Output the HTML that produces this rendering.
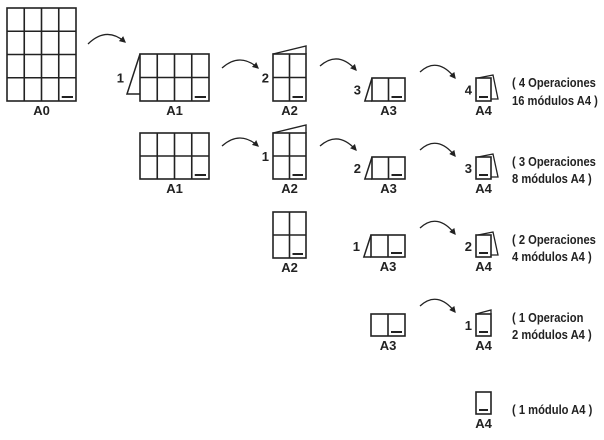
<!DOCTYPE html>
<html><head><meta charset="utf-8"><style>
html,body{margin:0;padding:0;background:#fff;}
svg{display:block;font-family:"Liberation Sans",Arial,sans-serif;font-weight:bold;}
</style></head><body>
<svg id="d" width="604" height="440" viewBox="0 0 604 440">
<defs><marker id="ah" markerWidth="5" markerHeight="5" refX="4" refY="2.5" orient="auto"><path d="M0,0 L5,2.5 L0,5 z" fill="#222"/></marker></defs>
</svg>
<script>
const NS="http://www.w3.org/2000/svg";
const svg=document.getElementById('d');
function el(tag,attrs,parent){const e=document.createElementNS(NS,tag);for(const k in attrs)e.setAttribute(k,attrs[k]);(parent||svg).appendChild(e);return e;}
const sheets=[
[7,8,4,4,17.25,23.25,'A0','',''],
[140,54,4,2,17.25,23.5,'A1','1','left'],
[273,54,2,2,16.5,23.5,'A2','2','top'],
[372,78,2,1,16.5,23,'A3','3','left'],
[476,78,1,1,15,23,'A4','4','right'],
[140,133,4,2,17.25,23,'A1','',''],
[273,133,2,2,16.5,23,'A2','1','top'],
[372,157,2,1,16.5,22,'A3','2','left'],
[476,157,1,1,15,22,'A4','3','right'],
[273,212,2,2,16.5,23,'A2','',''],
[371,235,2,1,17,22,'A3','1','left'],
[476,235,1,1,15,22,'A4','2','right'],
[371,314,2,1,17,22,'A3','',''],
[476,314,1,1,15,22,'A4','1','topsmall'],
[476,392,1,1,15,22,'A4','','']
];
sheets.forEach(s=>{
 const [x,y,c,r,w,h,lab,num,flap]=s;
 const g=el('g',{});
 
 
 const W=c*w,H=r*h;
 if(flap==='left'){el('path',{d:`M${x},${y} L${x-13*(r>1?1:0.55)},${y+H-(r>1?7:0)} L${x},${y+H-(r>1?7:0)}`,fill:'#fff',stroke:'#222','stroke-width':1.5},g);}
 if(flap==='top'){el('path',{d:`M${x},${y} L${x+W},${y-8} L${x+W},${y}`,fill:'#fff',stroke:'#222','stroke-width':1.4},g);}
 if(flap==='right'){el('path',{d:`M${x+2},${y} L${x+W+2},${y-3} L${x+W+7},${y+H-2} L${x+W},${y+H-2}`,fill:'#fff',stroke:'#222','stroke-width':1.3},g);}
 if(flap==='topsmall'){el('path',{d:`M${x},${y} L${x+W},${y-4} L${x+W},${y}`,fill:'#fff',stroke:'#222','stroke-width':1.3},g);}
 el('rect',{x:x,y:y,width:W,height:H,fill:'#fff',stroke:'#222','stroke-width':1.6},g);
 for(let i=1;i<c;i++)el('line',{x1:x+i*w,y1:y,x2:x+i*w,y2:y+H,stroke:'#222','stroke-width':1.6},g);
 for(let j=1;j<r;j++)el('line',{x1:x,y1:y+j*h,x2:x+W,y2:y+j*h,stroke:'#222','stroke-width':1.6},g);
 el('line',{x1:x+W-w+3,y1:y+H-4,x2:x+W-3,y2:y+H-4,stroke:'#222','stroke-width':2},g);
 const t=el('text',{x:x+W/2,y:y+H+14,'text-anchor':'middle','font-size':13,fill:'#222'},g);t.textContent=lab;
 if(num){const n=el('text',{x:x-(flap==='left'?(r>1?16:11):4),y:y+H/2+5,'text-anchor':'end','font-size':13,fill:'#222'},g);n.textContent=num;}
});
const arrows=[[88,44,125,42],[222,68,258,68],[320,66,356,70],[420,72,455,78],
[222,146,258,146],[320,146,356,150],[420,150,455,156],
[420,228,455,234],[420,306,455,312]];
arrows.forEach(a=>{
 const [x1,y1,x2,y2]=a;
 const p=el('path',{d:`M${x1},${y1} Q${(x1+x2)/2},${Math.min(y1,y2)-16} ${x2},${y2}`,fill:'none',stroke:'#222','stroke-width':1.3,'marker-end':'url(#ah)'});
 
 
});
const notes=[[83,101,'( 4 Operaciones','16 módulos A4 )'],[162,179,'( 3 Operaciones','8 módulos A4 )'],
[240,257,'( 2 Operaciones','4 módulos A4 )'],[318,335,'( 1 Operacion','2 módulos A4 )'],[410,null,'( 1 módulo A4 )',null]];
function fit(t){const L=t.getComputedTextLength();t.setAttribute('textLength',(L*0.86).toFixed(1));t.setAttribute('lengthAdjust','spacingAndGlyphs');}
notes.forEach(n=>{
 const t=el('text',{x:512,y:n[0]+4,'font-size':13,fill:'#222'});t.textContent=n[2];
 
 
 fit(t);
 if(n[1]){const t2=el('text',{x:512,y:n[1]+4,'font-size':13,fill:'#222'});t2.textContent=n[3];
 
 
 fit(t2);}
});
</script>
</body></html>
